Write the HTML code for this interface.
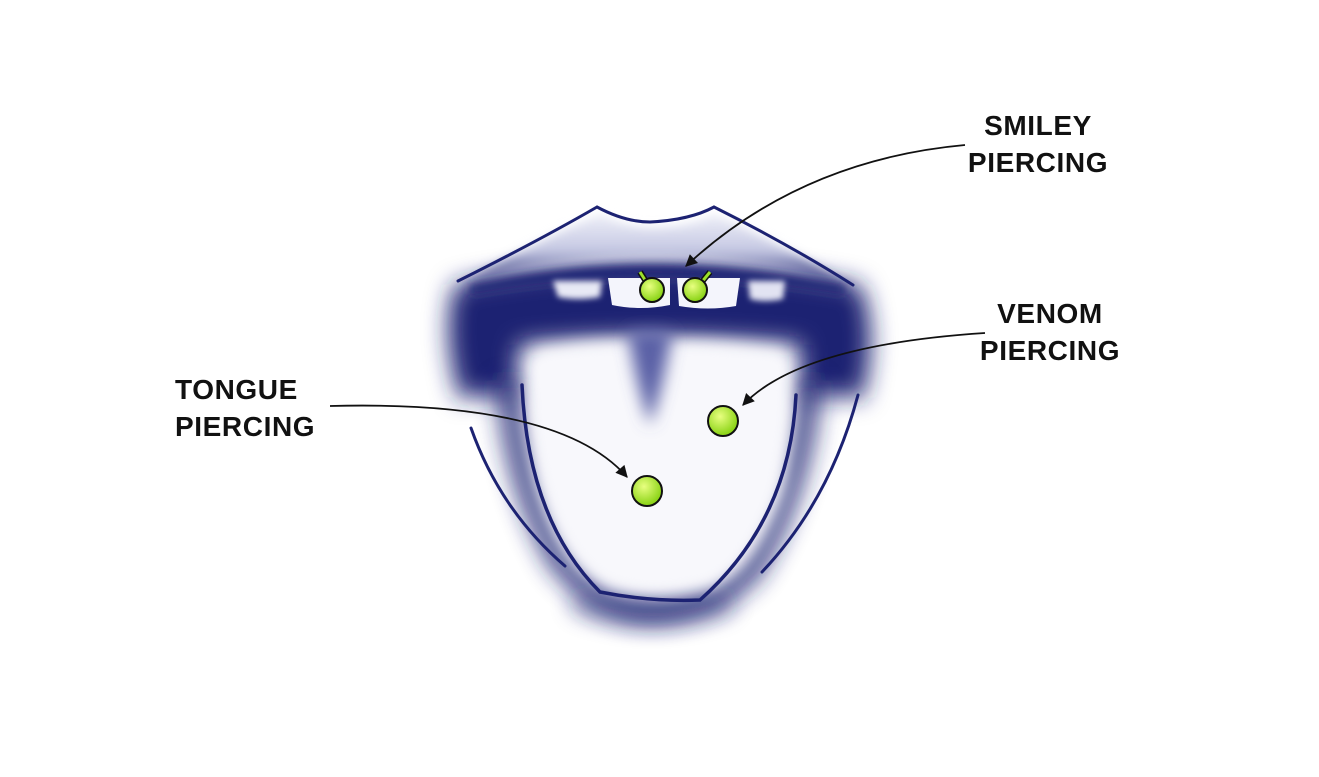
<!DOCTYPE html>
<html><head><meta charset="utf-8"><style>
html,body{margin:0;padding:0;background:#fff;width:1319px;height:777px;overflow:hidden}
text{font-family:"Liberation Sans",Arial,sans-serif;font-weight:bold;font-size:28px;fill:#111;letter-spacing:0.6px}
</style></head><body>
<svg width="1319" height="777" viewBox="0 0 1319 777" xmlns="http://www.w3.org/2000/svg">
<defs>
<filter id="b12" filterUnits="userSpaceOnUse" x="0" y="0" width="1319" height="777"><feGaussianBlur stdDeviation="12"/></filter>
<filter id="b8" filterUnits="userSpaceOnUse" x="0" y="0" width="1319" height="777"><feGaussianBlur stdDeviation="8"/></filter>
<filter id="b5" filterUnits="userSpaceOnUse" x="0" y="0" width="1319" height="777"><feGaussianBlur stdDeviation="5"/></filter>
<filter id="b3" filterUnits="userSpaceOnUse" x="0" y="0" width="1319" height="777"><feGaussianBlur stdDeviation="3"/></filter>
<radialGradient id="g" cx="0.4" cy="0.35" r="0.6"><stop offset="0" stop-color="#e8ff80"/><stop offset="1" stop-color="#8ed51a"/></radialGradient>
<linearGradient id="ul" x1="0" y1="0" x2="0" y2="1"><stop offset="0" stop-color="#eeeff8"/><stop offset="0.55" stop-color="#c4c7e2"/><stop offset="1" stop-color="#1c2272"/></linearGradient>
<marker id="ah" viewBox="0 0 10 10" refX="9" refY="5" markerWidth="16" markerHeight="12" orient="auto" markerUnits="userSpaceOnUse"><path d="M0,0 L10,5 L0,10 z" fill="#111"/></marker>
</defs>
<!-- outer navy mass: dark band + sides -->
<path d="M455,285 Q650,245 860,285 Q880,330 862,400 Q830,390 800,400 L800,345 Q650,332 520,345 L515,400 Q480,390 460,400 Q440,330 455,285Z" fill="#1c2272" filter="url(#b12)"/>
<!-- upper lip -->
<path d="M470,280 Q540,240 600,214 Q628,228 650,228 Q690,228 714,214 Q790,248 840,282 Q750,258 650,258 Q560,258 470,280Z" fill="url(#ul)" filter="url(#b5)"/>
<path d="M470,285 Q650,245 845,285 L845,295 Q650,262 470,295Z" fill="#1c2272" filter="url(#b5)"/>
<!-- lower lip navy shading along tongue edges -->
<path d="M508,380 Q515,480 560,560 Q600,608 650,610 Q710,608 750,570 Q800,490 810,380" fill="none" stroke="#1c2272" stroke-width="24" filter="url(#b12)" opacity="0.85"/>
<path d="M575,600 Q650,630 730,600" fill="none" stroke="#1c2272" stroke-width="16" filter="url(#b12)" opacity="0.7"/>
<!-- tongue -->
<path d="M535,352 Q600,338 650,344 Q705,338 785,352 Q795,420 782,490 Q758,562 712,588 Q660,598 608,588 Q558,562 538,480 Q526,410 535,352Z" fill="#f8f8fc" filter="url(#b8)"/>
<!-- groove -->
<path d="M628,332 Q650,328 672,332 Q664,385 650,425 Q636,385 628,332Z" fill="#5a60a6" filter="url(#b8)"/>
<!-- teeth -->
<path d="M553,281 L602,281 L600,297 Q578,301 558,297Z" fill="#e8e9f5" filter="url(#b3)"/>
<path d="M608,278 L670,278 L670,305 Q640,311 612,305Z" fill="#f4f5fc"/>
<path d="M677,278 L740,278 L736,306 Q708,311 679,306Z" fill="#f4f5fc"/>
<path d="M748,281 L785,281 L783,299 Q765,303 750,299Z" fill="#e2e3f2" filter="url(#b3)"/>
<!-- outlines -->
<g fill="none" stroke="#1c2272" stroke-width="3" stroke-linecap="round">
<path d="M458,281 Q540,240 597,207 Q625,222 650,222 Q690,220 714,207 Q790,245 853,285"/>
<path d="M471,428 Q500,510 565,566"/>
<path d="M858,395 Q830,500 762,572"/>
<path d="M522,385 Q528,520 600,592 Q650,602 700,600 Q790,520 796,395" stroke-width="3.5"/>
</g>
<!-- arrows -->
<g fill="none" stroke="#111" stroke-width="1.8">
<path d="M965,145 Q800,160 686,266" marker-end="url(#ah)"/>
<path d="M985,333 Q800,345 743,405" marker-end="url(#ah)"/>
<path d="M330,406 Q560,400 627,477" marker-end="url(#ah)"/>
</g>
<!-- piercings -->
<g stroke="#111" stroke-width="2">
<path d="M640,272 L647,283" stroke="#111" stroke-width="6"/><path d="M640,272 L647,283" stroke="#9be02a" stroke-width="3"/>
<path d="M710,272 L701,283" stroke="#111" stroke-width="6"/><path d="M710,272 L701,283" stroke="#9be02a" stroke-width="3"/>
<circle cx="652" cy="290" r="12" fill="url(#g)"/>
<circle cx="695" cy="290" r="12" fill="url(#g)"/>
<circle cx="723" cy="421" r="15" fill="url(#g)"/>
<circle cx="647" cy="491" r="15" fill="url(#g)"/>
</g>
<!-- labels -->
<text x="1038" y="135" text-anchor="middle">SMILEY</text>
<text x="1038" y="172" text-anchor="middle">PIERCING</text>
<text x="1050" y="323" text-anchor="middle">VENOM</text>
<text x="1050" y="360" text-anchor="middle">PIERCING</text>
<text x="175" y="399">TONGUE</text>
<text x="175" y="436">PIERCING</text>
</svg>
</body></html>
